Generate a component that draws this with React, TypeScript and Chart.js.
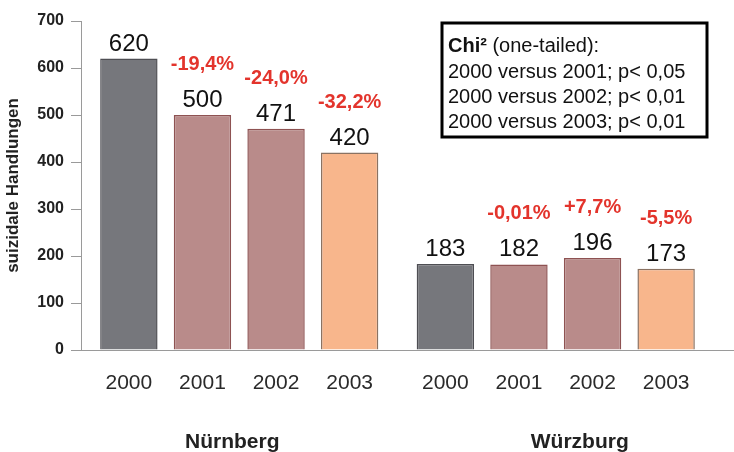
import React, { useEffect, useRef } from "react";
import { Chart, registerables } from "chart.js";

Chart.register(...registerables);

const cities = ["Nürnberg", "Würzburg"];
const years = ["2000", "2001", "2002", "2003"];
const nuernberg = [620, 500, 471, 420];
const wuerzburg = [183, 182, 196, 173];
const changesNuernberg = ["", "-19,4%", "-24,0%", "-32,2%"];
const changesWuerzburg = ["", "-0,01%", "+7,7%", "-5,5%"];
const yMin = 0;
const yMax = 700;
const yStep = 100;
const yTitle = "suizidale Handlungen";
const chiTitleBold = "Chi²";
const chiTitleRest = " (one-tailed):";
const chiLines = [
  "2000 versus 2001; p< 0,05",
  "2000 versus 2002; p< 0,01",
  "2000 versus 2003; p< 0,01",
];

const fills = ["#76777c", "#b98b8a", "#b98b8a", "#f8b68c"];
const borders = ["#4e4e53", "#8e5252", "#8e5252", "#8a7262"];
const FONT = '"Liberation Sans", Arial, Helvetica, sans-serif';
const RED = "#e3342c";

const labelsPlugin = {
  id: "labelsPlugin",
  afterDatasetsDraw(chart: any) {
    const ctx = chart.ctx;
    const area = chart.chartArea;
    ctx.save();
    // extend the x-axis line to the right edge
    ctx.strokeStyle = "#9a9a9a";
    ctx.lineWidth = 1;
    ctx.beginPath();
    ctx.moveTo(area.right, area.bottom + 0.5);
    ctx.lineTo(chart.width, area.bottom + 0.5);
    ctx.stroke();

    ctx.textAlign = "center";
    ctx.textBaseline = "alphabetic";
    chart.data.datasets.forEach((ds: any, i: number) => {
      const meta = chart.getDatasetMeta(i);
      meta.data.forEach((bar: any, j: number) => {
        const { x, y } = bar.getProps(["x", "y"], true);
        ctx.fillStyle = "#111";
        ctx.font = `24px ${FONT}`;
        ctx.fillText(String(ds.data[j]), x, y - 8);
        const change = j === 0 ? changesNuernberg[i] : changesWuerzburg[i];
        if (change) {
          ctx.fillStyle = RED;
          ctx.font = `bold 20px ${FONT}`;
          ctx.fillText(change, x, y - 45);
        }
        ctx.fillStyle = "#2a2a2a";
        ctx.font = `21px ${FONT}`;
        ctx.fillText(years[i], x, area.bottom + 39);
      });
    });

    const xs = chart.scales.x;
    const groupShift = [-7, 24];
    ctx.fillStyle = "#222";
    ctx.font = `bold 21px ${FONT}`;
    cities.forEach((c, j) => {
      ctx.fillText(c, xs.getPixelForValue(j) + groupShift[j], area.bottom + 98);
    });

    // Chi² box
    const bx = 442, by = 23, bw = 265, bh = 114;
    ctx.strokeStyle = "#000";
    ctx.lineWidth = 3;
    ctx.strokeRect(bx, by, bw, bh);
    ctx.textAlign = "left";
    ctx.fillStyle = "#111";
    ctx.font = `bold 20px ${FONT}`;
    ctx.fillText(chiTitleBold, bx + 6, by + 29);
    const w = ctx.measureText(chiTitleBold).width;
    ctx.font = `20px ${FONT}`;
    ctx.fillText(chiTitleRest, bx + 6 + w, by + 29);
    chiLines.forEach((line, k) => {
      ctx.fillText(line, bx + 6, by + 55 + k * 25);
    });
    ctx.restore();
  },
};

export default function App() {
  const ref = useRef<HTMLCanvasElement | null>(null);
  useEffect(() => {
    if (!ref.current) return;
    const chart = new Chart(ref.current, {
      type: "bar",
      data: {
        labels: cities,
        datasets: years.map((y, i) => ({
          label: y,
          data: [nuernberg[i], wuerzburg[i]],
          backgroundColor: fills[i],
          borderColor: borders[i],
          borderWidth: 1.5,
          categoryPercentage: 0.93,
          barPercentage: 0.78,
        })),
      },
      options: {
        animation: false,
        responsive: false,
        devicePixelRatio: 1,
        layout: { padding: { top: 21, right: 20, left: 0, bottom: 0 } },
        plugins: {
          legend: { display: false },
          tooltip: { enabled: false },
          title: { display: false },
        },
        scales: {
          x: {
            type: "category",
            grid: { display: false },
            border: { display: true, color: "#9a9a9a", width: 1 },
            ticks: { display: false },
            afterFit: (s: any) => {
              s.height = 102;
            },
          },
          y: {
            min: yMin,
            max: yMax,
            ticks: {
              stepSize: yStep,
              color: "#222",
              font: { family: FONT, size: 16, weight: "bold" },
              padding: 7,
            },
            grid: {
              drawOnChartArea: false,
              drawTicks: true,
              tickLength: 10,
              color: "#9a9a9a",
            },
            border: { display: true, color: "#9a9a9a", width: 1 },
            title: {
              display: true,
              text: yTitle,
              color: "#222",
              font: { family: FONT, size: 17, weight: "bold" },
              padding: { top: 3, bottom: 4 },
            },
            afterFit: (s: any) => {
              s.width = 81;
            },
          },
        },
      },
      plugins: [labelsPlugin],
    });
    return () => chart.destroy();
  }, []);
  return (
    <div style={{ position: "absolute", left: 0, top: 0, width: 734, height: 452, background: "#fff" }}>
      <canvas ref={ref} width={734} height={452} />
    </div>
  );
}
